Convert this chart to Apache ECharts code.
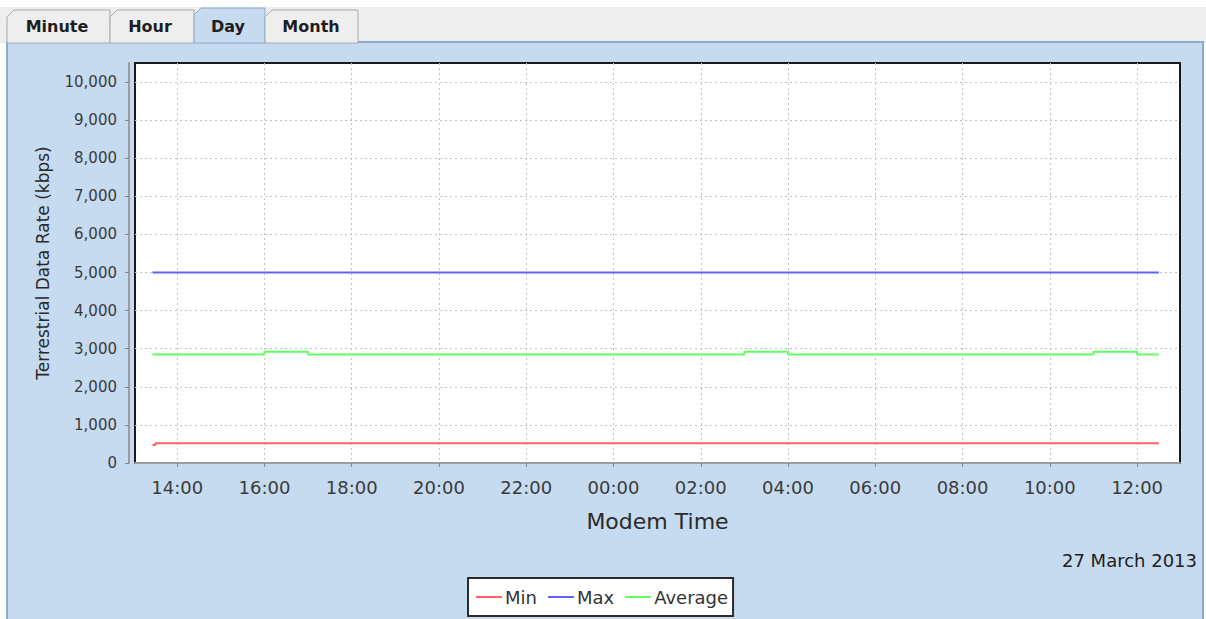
<!DOCTYPE html>
<html>
<head>
<meta charset="utf-8">
<script src="https://cdn.jsdelivr.net/npm/echarts@6/dist/echarts.min.js"></script>
<style>
html,body{margin:0;padding:0;background:#fff;}
#chart{width:1206px;height:619px;}
</style>
</head>
<body>
<div id="chart"></div>
<script>
// ---- data ----
const tabNames = ['Minute', 'Hour', 'Day', 'Month'];
const seriesNames = ['Min', 'Max', 'Average'];
const times = [
  '2013-03-26T13:26:00Z', '2013-03-26T13:30:00Z',
  '2013-03-26T14:00:00Z', '2013-03-26T15:00:00Z', '2013-03-26T16:00:00Z', '2013-03-26T17:00:00Z',
  '2013-03-26T18:00:00Z', '2013-03-26T19:00:00Z', '2013-03-26T20:00:00Z', '2013-03-26T21:00:00Z',
  '2013-03-26T22:00:00Z', '2013-03-26T23:00:00Z', '2013-03-27T00:00:00Z', '2013-03-27T01:00:00Z',
  '2013-03-27T02:00:00Z', '2013-03-27T03:00:00Z', '2013-03-27T04:00:00Z', '2013-03-27T05:00:00Z',
  '2013-03-27T06:00:00Z', '2013-03-27T07:00:00Z', '2013-03-27T08:00:00Z', '2013-03-27T09:00:00Z',
  '2013-03-27T10:00:00Z', '2013-03-27T11:00:00Z', '2013-03-27T12:00:00Z', '2013-03-27T12:30:00Z'
];
const minValues = [475, 520, 520, 520, 520, 520, 520, 520, 520, 520, 520, 520, 520,
                   520, 520, 520, 520, 520, 520, 520, 520, 520, 520, 520, 520, 520];
const maxValues = [5000, 5000, 5000, 5000, 5000, 5000, 5000, 5000, 5000, 5000, 5000, 5000, 5000,
                   5000, 5000, 5000, 5000, 5000, 5000, 5000, 5000, 5000, 5000, 5000, 5000, 5000];
const avgValues = [2850, 2850, 2850, 2850, 2920, 2850, 2850, 2850, 2850, 2850, 2850, 2850, 2850,
                   2850, 2850, 2920, 2850, 2850, 2850, 2850, 2850, 2850, 2850, 2920, 2850, 2850];
const xTickTimes = [
  '2013-03-26T14:00:00Z', '2013-03-26T16:00:00Z', '2013-03-26T18:00:00Z', '2013-03-26T20:00:00Z',
  '2013-03-26T22:00:00Z', '2013-03-27T00:00:00Z', '2013-03-27T02:00:00Z', '2013-03-27T04:00:00Z',
  '2013-03-27T06:00:00Z', '2013-03-27T08:00:00Z', '2013-03-27T10:00:00Z', '2013-03-27T12:00:00Z'
];
const yTickValues = [0, 1000, 2000, 3000, 4000, 5000, 6000, 7000, 8000, 9000, 10000];
const xMin = '2013-03-26T13:02:00Z';
const xMax = '2013-03-27T12:59:00Z';
const yMin = 0, yMax = 10500;
const dateLabel = '27 March 2013';
const xTitle = 'Modem Time';
const yTitle = 'Terrestrial Data Rate (kbps)';

// ---- build ----
const FONT = 'DejaVu Sans';
const PANEL = '#c6daf0';
const PANEL_BORDER = '#8ea9cf';
const colors = ['#ff6262', '#6262ff', '#62ff62'];

function pairs(vals) { return times.map((t, i) => [Date.parse(t), vals[i]]); }
const xTicks = xTickTimes.map(t => Date.parse(t));

const tabs = [
  {x0: 7, x1: 110, top: 10, cx: 57},
  {x0: 110, x1: 194, top: 10, cx: 150},
  {x0: 194, x1: 265, top: 8, cx: 228},
  {x0: 265, x1: 358, top: 10, cx: 311}
];
const graphics = [
  {type: 'rect', z: -20, shape: {x: 0, y: 7, width: 1206, height: 36}, style: {fill: '#eeeeee'}},
  {type: 'rect', z: -20, shape: {x: 7, y: 42, width: 1196, height: 580}, style: {fill: PANEL, stroke: PANEL_BORDER, lineWidth: 2}}
];
tabs.forEach((t, i) => {
  const sel = tabNames[i] === 'Day';
  graphics.push({
    type: 'polygon', z: -15,
    shape: {points: [[t.x0, 43], [t.x0, t.top + 7], [t.x0 + 7, t.top], [t.x1, t.top], [t.x1, 43]]},
    style: {fill: sel ? PANEL : '#eeeeee', stroke: sel ? PANEL_BORDER : '#a3abb5', lineWidth: 1}
  });
  graphics.push({
    type: 'text', z: -14, x: t.cx, y: 26,
    style: {text: tabNames[i], fill: '#1e1e1e', font: 'bold 16px "' + FONT + '"', textAlign: 'center', textVerticalAlign: 'middle'}
  });
});

const chart = echarts.init(document.getElementById('chart'), null, {renderer: 'svg'});
chart.setOption({
  useUTC: true,
  animation: false,
  backgroundColor: '#ffffff',
  textStyle: {fontFamily: FONT},
  graphic: graphics,
  title: {
    text: dateLabel, right: 9, top: 551, padding: 0,
    textStyle: {fontSize: 18, fontWeight: 'normal', color: '#1e1e1e', fontFamily: FONT}
  },
  legend: {
    data: seriesNames,
    left: 468, top: 578,
    padding: [10, 5, 10, 8],
    itemGap: 11, itemWidth: 26, itemHeight: 2,
    icon: 'rect',
    backgroundColor: '#ffffff', borderColor: '#2a2a2a', borderWidth: 2,
    textStyle: {fontSize: 18, color: '#333', fontFamily: FONT, padding: [0, 0, 0, -2]}
  },
  grid: {
    left: 135, right: 26, top: 63, bottom: 156,
    show: true, backgroundColor: '#ffffff', borderColor: '#1a1a1a', borderWidth: 2,
    containLabel: false
  },
  xAxis: {
    type: 'time',
    min: Date.parse(xMin), max: Date.parse(xMax),
    offset: 7,
    name: xTitle, nameLocation: 'middle', nameGap: 40,
    nameTextStyle: {fontSize: 22, color: '#2a2a2a', fontFamily: FONT},
    axisLine: {show: true, lineStyle: {color: '#9c9c9c', width: 2}},
    axisTick: {show: true, length: 4, lineStyle: {color: '#888'}, customValues: xTicks},
    axisLabel: {
      customValues: xTicks,
      formatter: '{HH}:{mm}', fontSize: 18, color: '#3a3a3a', margin: 8,
      hideOverlap: false, fontFamily: FONT
    },
    splitLine: {show: true, lineStyle: {color: '#c2c2c2', type: [2, 3], width: 1}}
  },
  yAxis: {
    type: 'value',
    min: yMin, max: yMax,
    offset: 6,
    name: yTitle, nameLocation: 'middle', nameGap: 78,
    nameTextStyle: {fontSize: 17, color: '#2a2a2a', fontFamily: FONT},
    axisLine: {show: true, lineStyle: {color: '#9c9c9c', width: 2}},
    axisTick: {show: true, length: 4, lineStyle: {color: '#888'}, customValues: yTickValues},
    axisLabel: {
      customValues: yTickValues,
      fontSize: 15, color: '#3a3a3a', margin: 12, fontFamily: FONT,
      formatter: v => Number(v).toLocaleString('en-US')
    },
    splitLine: {show: true, lineStyle: {color: '#c2c2c2', type: [2, 3], width: 1}}
  },
  series: [
    {name: seriesNames[0], type: 'line', step: 'end', showSymbol: false, data: pairs(minValues),
     lineStyle: {width: 2, color: colors[0]}, itemStyle: {color: colors[0]}},
    {name: seriesNames[1], type: 'line', step: 'end', showSymbol: false, data: pairs(maxValues),
     lineStyle: {width: 2, color: colors[1]}, itemStyle: {color: colors[1]}},
    {name: seriesNames[2], type: 'line', step: 'end', showSymbol: false, data: pairs(avgValues),
     lineStyle: {width: 2, color: colors[2]}, itemStyle: {color: colors[2]}}
  ]
});
</script>
</body>
</html>
